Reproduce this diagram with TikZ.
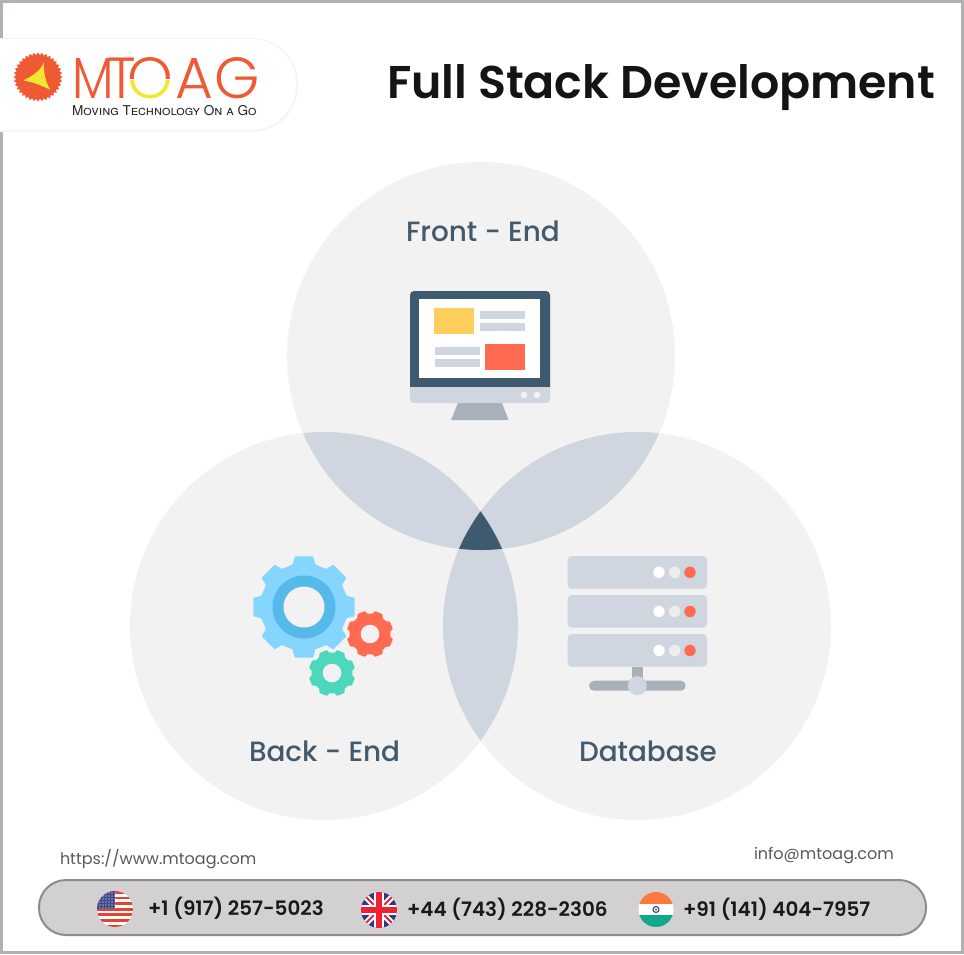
\documentclass[tikz,border=0pt]{standalone}
\usepackage{fontspec}
\setmainfont{Poppins}
\newfontfamily\pmed{Poppins Medium}
\newfontfamily\psemi{Poppins SemiBold}
\newfontfamily\plight{Poppins Light}
\newfontfamily\logofont[Letters=SmallCaps]{TeX Gyre Heros}
\definecolor{venn}{HTML}{F2F2F2}
\definecolor{overlap}{HTML}{CFD6DF}
\definecolor{slate}{HTML}{3F5A6E}
\definecolor{labelc}{HTML}{43596C}
\definecolor{standc}{HTML}{A8B1BA}
\definecolor{yel}{HTML}{FFCF5C}
\definecolor{coral}{HTML}{FF6A50}
\definecolor{sky}{HTML}{84D5FF}
\definecolor{skyd}{HTML}{56B9EA}
\definecolor{mint}{HTML}{4DD8BC}
\definecolor{logoo}{HTML}{EF5A34}
\definecolor{logoy}{HTML}{F2E62E}
\definecolor{pillc}{HTML}{D2D0D1}
\definecolor{framec}{HTML}{B3B0B0}
\definecolor{usred}{HTML}{E8412F}
\definecolor{usblue}{HTML}{3F4A8C}
\definecolor{ukblue}{HTML}{2E3A7C}
\definecolor{ukred}{HTML}{EC2233}
\definecolor{inor}{HTML}{FF7A3C}
\definecolor{ingr}{HTML}{12A88C}
\newcommand{\mygear}[7]{% x y Ro Ri n rot colour
  \fill[#7,rounded corners=0.8pt] ($(#1,#2)+(#6+360/#5*0-360/#5*0.33:#4)$)
  \foreach \gi in {1,...,#5}{
    -- ($(#1,#2)+(#6+360/#5*\gi-360/#5*1.33:#4)$)
    -- ($(#1,#2)+(#6+360/#5*\gi-360/#5*1.23:#3)$)
    -- ($(#1,#2)+(#6+360/#5*\gi-360/#5*0.77:#3)$)
    -- ($(#1,#2)+(#6+360/#5*\gi-360/#5*0.67:#4)$)
  } -- cycle;}
\usetikzlibrary{calc}
\tikzset{
  txt/.style={inner sep=0pt,outer sep=0pt,anchor=base west},
  vennlabel/.style={txt,text=labelc,font=\pmed\fontsize{27.9}{30}\selectfont},
  phone/.style={txt,text=black!90,font=\psemi\fontsize{19.9}{24}\selectfont},
  contact/.style={txt,text=black!65,font=\fontsize{16}{20}\selectfont},
  logoletter/.style={inner sep=0pt,outer sep=0pt,anchor=base,text=logoo,font=\plight\fontsize{58}{60}\selectfont},
  bar/.style={fill=overlap},
  rowbox/.style={fill=overlap,rounded corners=4pt},
}
\begin{document}
\begin{tikzpicture}[x=1pt,y=-1pt]
\useasboundingbox (0,0) rectangle (964,954);
\fill[white] (0,0) rectangle (964,954);
\draw[framec,line width=3pt] (1.5,1.5) rectangle (962.5,952.5);
% logo pill
\fill[black!4,rounded corners=46pt] (-60,38) rectangle (298,132);
\fill[white,rounded corners=45pt] (-60,39) rectangle (296,130);
% sun
\fill[logoo] ($(38,77)+(90:24.5)$)
 \foreach \sa in {0,10,...,350}{ -- ($(38,77)+(90+\sa:24.5)$) -- ($(38,77)+(95+\sa:22)$) } -- cycle;
\fill[logoy,rounded corners=1pt] (43.5,62.5) .. controls (40,72) and (30,77) .. (23,80.5)
  .. controls (32,82) and (41,85) .. (50.5,90) .. controls (45,81) and (44,72) .. (43.5,62.5) -- cycle;
% logo letters
\node[logoletter,xscale=0.85] (lm) at (93,98) {M};
\node[logoletter,xscale=0.95] (lt) at (122,98) {T};
\begin{scope}
 \clip (125,50) rectangle (175,78.5);
 \node[logoletter] (lo) at (150.5,98) {O};
\end{scope}
\begin{scope}
 \clip (125,80.5) rectangle (175,105);
 \node[logoletter,text=logoy] (lo2) at (150.5,98) {O};
\end{scope}
\node[logoletter] (la) at (194,98) {A};
\node[logoletter] (lg) at (237,98) {G};
\node[txt,text=black!85,font=\logofont\fontsize{13.55}{16}\selectfont] (slogan) at (72,115.5) {Moving Technology On a Go};
% title
\node[txt,text=black!92,font=\psemi\fontsize{45.9}{50}\selectfont] (title) at (387,98) {Full Stack Development};
% venn
\fill[venn] (481,356) circle[radius=194];
\fill[venn] (324,626) circle[radius=194];
\fill[venn] (637,626) circle[radius=194];
\begin{scope}\clip (481,356) circle[radius=194];\fill[overlap] (324,626) circle[radius=194];\fill[overlap] (637,626) circle[radius=194];\end{scope}
\begin{scope}\clip (324,626) circle[radius=194];\fill[overlap] (637,626) circle[radius=194];\end{scope}
\begin{scope}\clip (481,356) circle[radius=194];\clip (324,626) circle[radius=194];\fill[slate] (637,626) circle[radius=194];\end{scope}
\node[vennlabel] (front) at (406,241) {Front - End};
\node[vennlabel] (back) at (249,761) {Back - End};
\node[vennlabel] (db) at (579,761) {Database};
% monitor
\fill[overlap,rounded corners=4pt] (410,380) rectangle (550,403);
\fill[slate,rounded corners=4pt] (410,291) rectangle (550,392);
\fill[overlap] (410,386.5) rectangle (550,396);
\fill[white] (419,299) rectangle (540,377.5);
\fill[standc] (458,403) -- (502,403) -- (508.5,420) -- (451,420) -- cycle;
\fill[venn] (524,395) circle[radius=3.3];
\fill[venn] (537,395) circle[radius=3.3];
\fill[yel] (434,308) rectangle (474,334);
\fill[bar] (480,311) rectangle (525,319);
\fill[bar] (480,323) rectangle (525,331);
\fill[bar] (434.5,347) rectangle (480,354.5);
\fill[bar] (434.5,359) rectangle (480,366.5);
\fill[coral] (485,344) rectangle (525,370);
% gears
\mygear{304}{607}{51.5}{44}{8}{90}{sky}
\fill[skyd] (304,607) circle[radius=31.5];
\fill[venn] (304,607) circle[radius=20.5];
\mygear{370}{634}{23.5}{20.5}{8}{112.5}{coral}
\fill[venn] (370,634) circle[radius=9.3];
\mygear{332}{673}{23.5}{20.5}{8}{112.5}{mint}
\fill[venn] (332,673) circle[radius=9.3];
% server
\fill[rowbox] (567.7,556) rectangle (707,588.7);
\fill[rowbox] (567.7,595) rectangle (707,627.7);
\fill[rowbox] (567.7,634) rectangle (707,666.7);
\foreach \ry in {572.3,611.5,650.5}{
  \fill[white] (659,\ry) circle[radius=5.7];
  \fill[black!7] (674.7,\ry) circle[radius=5.7];
  \fill[coral] (690,\ry) circle[radius=5.7];
}
\fill[standc] (632.3,666.7) rectangle (643,685);
\fill[standc,rounded corners=5pt] (589,680.7) rectangle (685.7,690.7);
\fill[overlap] (637.3,685.7) circle[radius=9.5];
% footer
\node[contact] (url) at (60,864) {https://www.mtoag.com};
\node[contact] (mail) at (754,859) {info@mtoag.com};
\draw[fill=pillc,draw=black!45,line width=2pt,rounded corners=27pt] (39,880) rectangle (926,935);
\node[phone] (p1) at (148,915) {+1 (917) 257-5023};
\node[phone] (p2) at (407,916) {+44 (743) 228-2306};
\node[phone] (p3) at (683,916) {+91 (141) 404-7957};
% US flag
\begin{scope}
 \clip (115,909) circle[radius=18];
 \fill[white] (97,891) rectangle (133,927);
 \foreach \sy in {891,896.6,...,927}{\fill[usred] (97,\sy) rectangle (133,\sy+2.8);}
 \fill[usblue] (97,891) rectangle (115,909);
 \foreach \sx in {100,103,...,115}{\foreach \sy in {893,896,...,908}{\fill[white] (\sx,\sy) circle[radius=0.7];}}
\end{scope}
% UK flag
\begin{scope}
 \clip (379,910) circle[radius=18];
 \fill[ukblue] (361,892) rectangle (397,928);
 \draw[white,line width=6pt] (361,892) -- (397,928) (397,892) -- (361,928);
 \draw[ukred,line width=2pt] (361,892) -- (397,928) (397,892) -- (361,928);
 \draw[white,line width=10pt] (379,892) -- (379,928) (361,910) -- (397,910);
 \draw[ukred,line width=6pt] (379,892) -- (379,928) (361,910) -- (397,910);
\end{scope}
% India flag
\begin{scope}
 \clip (656,909.5) circle[radius=17.5];
 \fill[inor] (638,892) rectangle (674,904);
 \fill[white] (638,904) rectangle (674,915);
 \fill[ingr] (638,915) rectangle (674,927);
 \draw[ukblue,line width=1pt] (656,909.5) circle[radius=3];
 \fill[ukblue!60] (656,909.5) circle[radius=1.5];
\end{scope}
\end{tikzpicture}
\end{document}
